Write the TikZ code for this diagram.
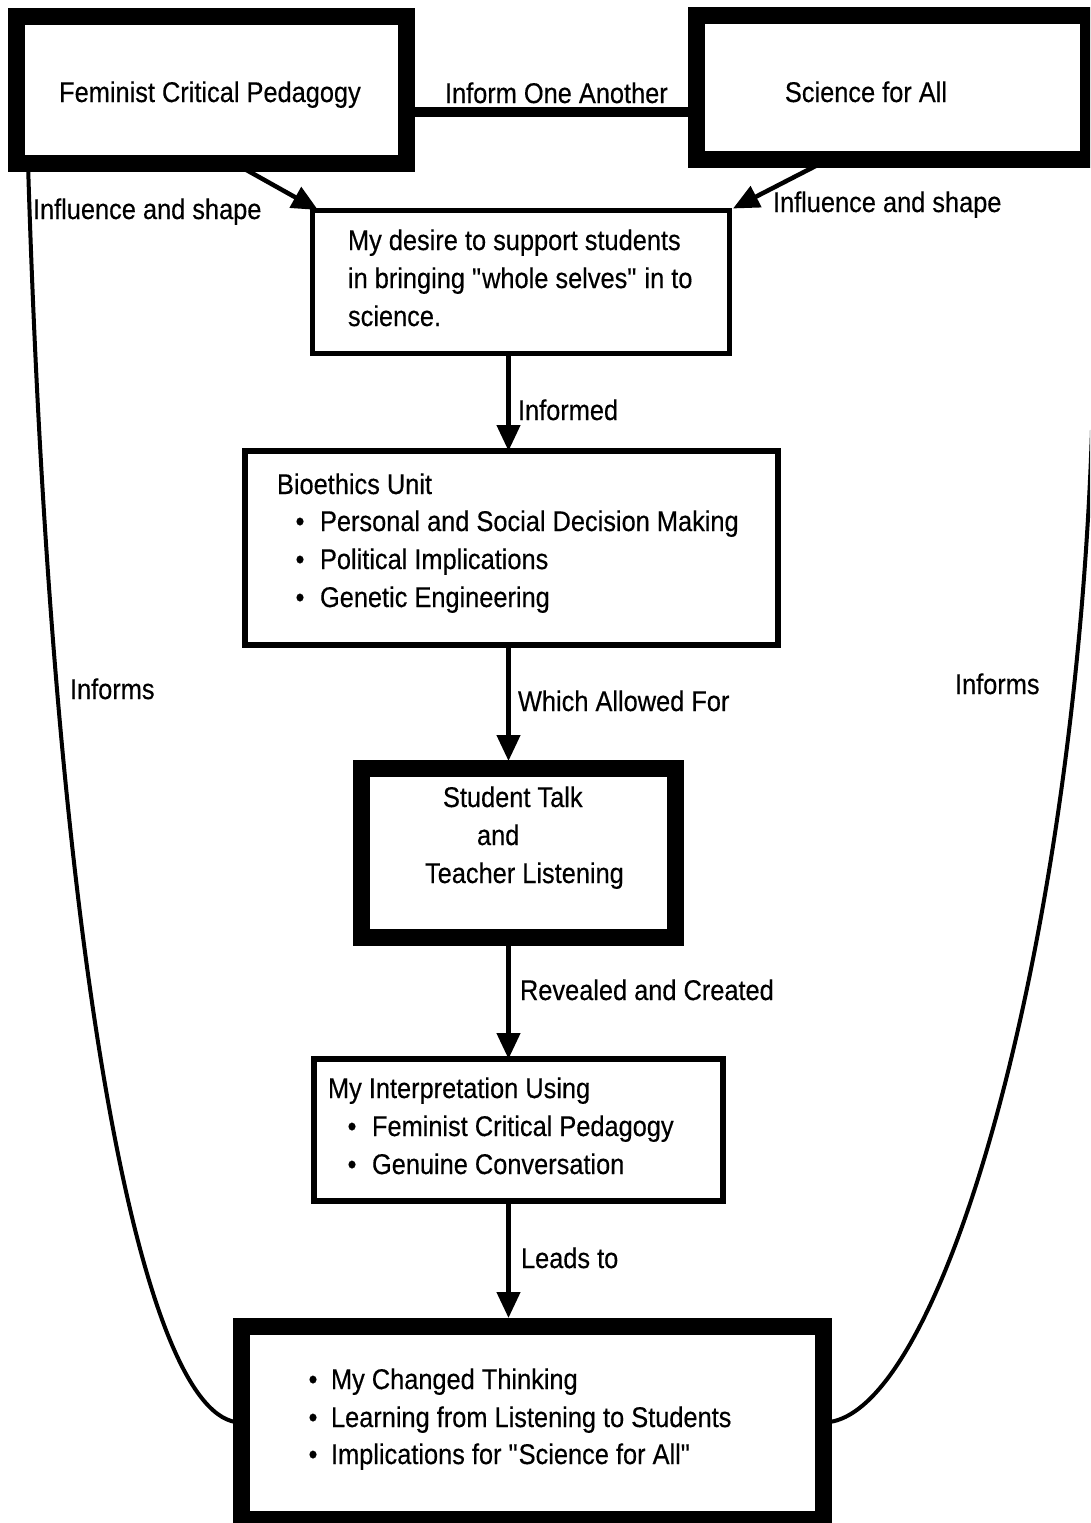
\documentclass[tikz,border=0pt]{standalone}
\usepackage{fontspec}
\setmainfont{Liberation Sans}[FakeStretch=0.89, FakeBold=0.4]
\usetikzlibrary{arrows.meta,calc}
\newcommand{\sq}{\XeTeXglyph\XeTeXglyphindex "quotedbl"\relax}
\begin{document}
\begin{tikzpicture}[x=1pt,y=-1pt,
  thickbox/.style={draw, line width=17pt, inner sep=0pt, outer sep=0pt},
  thinbox/.style={draw, line width=5.5pt, inner sep=0pt, outer sep=0pt},
  txt/.style={anchor=base west, inner sep=0pt, outer sep=0pt, font=\fontsize{28.5}{38}\selectfont},
  bul/.style={anchor=base, inner sep=0pt, outer sep=0pt, font=\fontsize{28.5}{38}\selectfont},
  arr/.style={line width=4.5pt, -{Triangle[width=23pt,length=26pt]}},
  curveline/.style={line width=4pt}]
\useasboundingbox (0,0) rectangle (1090,1523);
\clip (0,0) rectangle (1090,1523);

% boxes
\node[thickbox, minimum width=390pt, minimum height=146.5pt] (fcp) at (211.5,89.75) {};
\node[thickbox, minimum width=392.5pt, minimum height=144pt] (sfa) at (892.25,87.5) {};
\node[thinbox, minimum width=417pt, minimum height=143pt] (desire) at (521,282) {};
\node[thinbox, minimum width=533pt, minimum height=194pt] (bio) at (511.5,548) {};
\node[thickbox, minimum width=314pt, minimum height=169pt] (student) at (518,852.5) {};
\node[thinbox, minimum width=409pt, minimum height=142pt] (interp) at (518.5,1130) {};
\node[thickbox, minimum width=582pt, minimum height=193pt] (final) at (532,1422.5) {};

% texts in boxes
\node[bul] (tfcp) at (210,102) {Feminist Critical Pedagogy};
\node[bul] (tsfa) at (866,102) {Science for All};

\node[txt] (d1) at (348,250) {My desire to support students};
\node[txt] (d2) at (348,288) {in bringing \sq whole selves\sq{} in to};
\node[txt] (d3) at (348,326) {science.};

\node[txt] (b0) at (277,494) {Bioethics Unit};
\node[bul] (bb1) at (300,531) {•};
\node[txt] (b1) at (320,531) {Personal and Social Decision Making};
\node[bul] (bb2) at (300,569) {•};
\node[txt] (b2) at (320,569) {Political Implications};
\node[bul] (bb3) at (300,607) {•};
\node[txt] (b3) at (320,607) {Genetic Engineering};

\node[txt] (s1) at (443,807) {Student Talk};
\node[txt] (s2) at (477,845) {and};
\node[txt] (s3) at (425,883) {Teacher Listening};

\node[txt] (i0) at (328,1098) {My Interpretation Using};
\node[bul] (ib1) at (352,1136) {•};
\node[txt] (i1) at (372,1136) {Feminist Critical Pedagogy};
\node[bul] (ib2) at (352,1174) {•};
\node[txt] (i2) at (372,1174) {Genuine Conversation};

\node[bul] (fb1) at (313,1389) {•};
\node[txt] (f1) at (331,1389) {My Changed Thinking};
\node[bul] (fb2) at (313,1427) {•};
\node[txt] (f2) at (331,1427) {Learning from Listening to Students};
\node[bul] (fb3) at (313,1464) {•};
\node[txt] (f3) at (331,1464) {Implications for \sq Science for All\sq};

% connector labels
\node[txt] (lio) at (445,103) {Inform One Another};
\node[txt] (lis1) at (33,219) {Influence and shape};
\node[txt] (lis2) at (773,212) {Influence and shape};
\node[txt] (linf) at (518,420) {Informed};
\node[txt] (lwaf) at (518,711) {Which Allowed For};
\node[txt] (lrac) at (520,1000) {Revealed and Created};
\node[txt] (llt) at (521,1268) {Leads to};
\node[txt] (lil) at (70,699) {Informs};
\node[txt] (lir) at (955,694) {Informs};

% connectors
\coordinate (spine) at (508.5,0);
\coordinate (rtop) at (1092,430);
\coordinate (ioa) at ($(fcp.east)+(0,22.25)$);

\draw[line width=10pt] (ioa) -- (ioa -| sfa.west);

\draw[arr] ($(fcp.south)+(22.5,0)$) -- ($(desire.north west)+(5.5,-0.5)$);
\draw[arr] ($(sfa.south)+(-64,0)$) -- ($(desire.north east)+(3.5,-2)$);

\draw[arr] (desire.south -| spine) -- (bio.north -| spine);
\draw[arr, shorten >=7pt] (bio.south -| spine) -- (student.north -| spine);
\draw[arr] (student.south -| spine) -- (interp.north -| spine);
\draw[arr, shorten >=8pt] (interp.south -| spine) -- (final.north -| spine);

\draw[curveline] ($(fcp.south west)+(11.5,0)$) .. controls (52,950) and (140,1422.5) .. (final.west);
\draw[curveline] (rtop) .. controls (1075,950) and (940,1422.5) .. (final.east);
\end{tikzpicture}
\end{document}
